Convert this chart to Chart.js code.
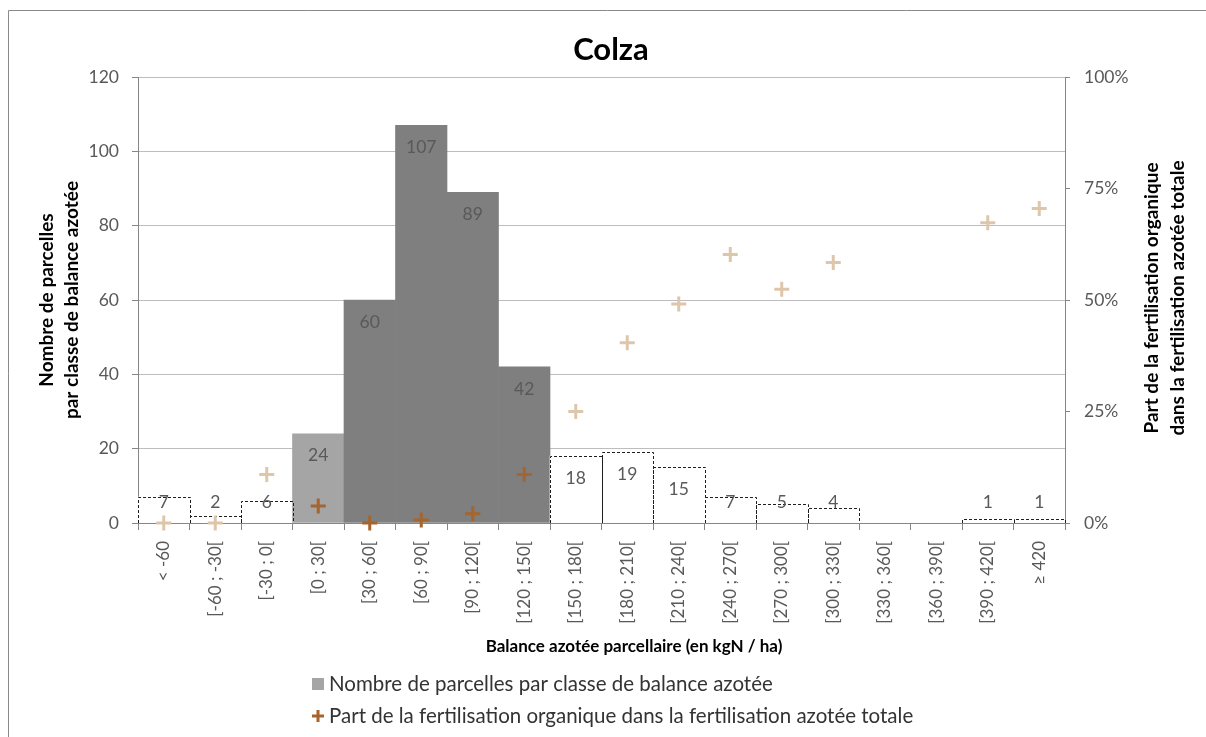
<!DOCTYPE html>
<html><head><meta charset="utf-8">
<script src="https://cdn.jsdelivr.net/npm/chart.js@4.4.0/dist/chart.umd.min.js"></script>
<style>html,body{margin:0;padding:0;background:#fff}#wrap{width:1206px;height:737px;position:relative}canvas{display:block}</style>
</head><body><div id="wrap"><canvas id="c" width="1206" height="737"></canvas></div>
<script>
// ---- data ----
const categories = ["< -60","[-60 ; -30[","[-30 ; 0[","[0 ; 30[","[30 ; 60[","[60 ; 90[","[90 ; 120[","[120 ; 150[","[150 ; 180[","[180 ; 210[","[210 ; 240[","[240 ; 270[","[270 ; 300[","[300 ; 330[","[330 ; 360[","[360 ; 390[","[390 ; 420[","≥ 420"];
const parcelCounts = [7,2,6,24,60,107,89,42,18,19,15,7,5,4,0,0,1,1];
const organicShare = [0,0,10.9,3.8,0,0.7,2.1,10.9,25,40.4,49.1,60.2,52.4,58.4,null,null,67.3,70.5];
const leftTicks = [0,20,40,60,80,100,120];
const rightTicks = [0,25,50,75,100];
const barSeriesName = "Nombre de parcelles par classe de balance azotée";
const shareSeriesName = "Part de la fertilisation organique dans la fertilisation azotée totale";

// ---- styles ----
const FONT = "Lato, 'Open Sans', sans-serif";
const C_LIGHT = '#A5A5A5', C_DARK = '#7F7F7F';
const BROWN = '#A5652D', TAN = '#DDC6AA';
const lightIdx = [3], darkIdx = [4,5,6,7];
const barFill = categories.map((_, i) => lightIdx.includes(i) ? C_LIGHT : darkIdx.includes(i) ? C_DARK : '#FFFFFF');
const isOutline = i => !lightIdx.includes(i) && !darkIdx.includes(i);
const crossColor = categories.map((_, i) => (lightIdx.includes(i) || darkIdx.includes(i)) ? BROWN : TAN);

const decor = {
  id: 'decor',
  beforeDraw(chart) {
    const ctx = chart.ctx;
    ctx.save();
    ctx.strokeStyle = '#8A8A8A'; ctx.lineWidth = 1;
    ctx.beginPath(); ctx.moveTo(8.5, 737); ctx.lineTo(8.5, 10.5); ctx.lineTo(1206, 10.5); ctx.stroke();
    ctx.restore();
  },
  afterDatasetDraw(chart, args) {
    const ds = chart.data.datasets[args.index];
    if (ds.type !== 'bar') return;
    const ctx = chart.ctx;
    ctx.save();
    ctx.setLineDash([3, 2]); ctx.strokeStyle = '#1E1E1E'; ctx.lineWidth = 1;
    args.meta.data.forEach((el, i) => {
      if (!isOutline(i) || !parcelCounts[i]) return;
      const p = el.getProps(['x','y','base','width'], true);
      const l = Math.round(p.x - p.width/2) + 0.5, r = Math.round(p.x + p.width/2) + 0.5;
      const t = Math.round(p.y) + 0.5, b = Math.round(p.base);
      ctx.beginPath(); ctx.moveTo(l, b); ctx.lineTo(l, t); ctx.lineTo(r, t); ctx.lineTo(r, b); ctx.stroke();
    });
    ctx.restore();
  },
  afterDatasetsDraw(chart) {
    const ctx = chart.ctx;
    const meta = chart.getDatasetMeta(1);
    ctx.save();
    ctx.font = '17.5px ' + FONT; ctx.fillStyle = '#595959';
    ctx.textAlign = 'center'; ctx.textBaseline = 'middle';
    meta.data.forEach((el, i) => {
      const v = parcelCounts[i];
      if (!v) return;
      const p = el.getProps(['x','y','base'], true);
      ctx.fillText(String(v), p.x, Math.min(p.y + 22, p.base - 20));
    });
    ctx.restore();
  },
  afterDraw(chart) {
    const ctx = chart.ctx;
    ctx.save();
    ctx.fillStyle = '#000';
    ctx.textAlign = 'center'; ctx.textBaseline = 'alphabetic';
    ctx.font = 'bold 31px ' + FONT;
    ctx.fillText('Colza', 611, 60);
    ctx.textBaseline = 'middle';
    ctx.font = 'bold 17px ' + FONT;
    ctx.fillText('Balance azotée parcellaire (en kgN / ha)', 634, 647);
    ctx.font = 'bold 19px ' + FONT;
    const vtext = (txt, x, y) => { ctx.save(); ctx.translate(x, y); ctx.rotate(-Math.PI/2); ctx.fillText(txt, 0, 0); ctx.restore(); };
    vtext('Nombre de parcelles', 47, 300);
    vtext('par classe de balance azotée', 72, 300);
    vtext('Part de la fertilisation organique', 1152, 298);
    vtext('dans la fertilisation azotée totale', 1178, 298);
    // legend
    ctx.textAlign = 'left';
    ctx.font = '20.5px ' + FONT; ctx.fillStyle = '#333';
    ctx.fillText(barSeriesName, 329, 684);
    ctx.fillText(shareSeriesName, 329, 716);
    ctx.fillStyle = C_LIGHT; ctx.fillRect(312, 678, 12, 12);
    ctx.strokeStyle = BROWN; ctx.lineWidth = 3;
    ctx.beginPath(); ctx.moveTo(312, 716); ctx.lineTo(324, 716); ctx.moveTo(318, 710); ctx.lineTo(318, 722); ctx.stroke();
    ctx.restore();
  }
};

new Chart(document.getElementById('c'), {
  type: 'bar',
  data: {
    labels: categories,
    datasets: [
      { type: 'line', label: shareSeriesName, data: organicShare, yAxisID: 'y2', showLine: false,
        pointStyle: 'cross', pointRadius: 7.5, pointHoverRadius: 7.5, pointBorderWidth: 3,
        pointBorderColor: crossColor, pointBackgroundColor: crossColor, borderColor: BROWN, clip: false, order: 0 },
      { type: 'bar', label: barSeriesName, data: parcelCounts, yAxisID: 'y', backgroundColor: barFill,
        borderWidth: 0, categoryPercentage: 1, barPercentage: 1, order: 1 }
    ]
  },
  options: {
    responsive: false, animation: false, devicePixelRatio: 1,
    layout: { padding: { top: 77, left: 0, right: 0, bottom: 0 } },
    plugins: { legend: { display: false }, tooltip: { enabled: false }, title: { display: false } },
    scales: {
      x: {
        offset: true,
        grid: { display: true, drawOnChartArea: false, tickLength: 7, tickColor: '#868686', offset: true },
        border: { color: '#868686' },
        ticks: { maxRotation: 90, minRotation: 90, autoSkip: false, font: { family: FONT, size: 17 }, color: '#595959', padding: 11 },
        afterFit(s) { s.height = 214; }
      },
      y: {
        position: 'left', min: 0, max: 120,
        afterBuildTicks(s) { s.ticks = leftTicks.map(v => ({ value: v })); },
        ticks: { font: { family: FONT, size: 17.5 }, color: '#595959', padding: 13 },
        grid: { color: '#BDBDBD', tickLength: 6, tickColor: '#868686' },
        border: { color: '#868686' },
        afterFit(s) { s.width = 138; }
      },
      y2: {
        position: 'right', min: 0, max: 100,
        afterBuildTicks(s) { s.ticks = rightTicks.map(v => ({ value: v })); },
        ticks: { font: { family: FONT, size: 17.5 }, color: '#595959', padding: 14, callback: v => v + '%' },
        grid: { drawOnChartArea: false, tickLength: 5, tickColor: '#868686' },
        border: { color: '#868686' },
        afterFit(s) { s.width = 141; }
      }
    }
  },
  plugins: [decor]
});
</script>
</body></html>
